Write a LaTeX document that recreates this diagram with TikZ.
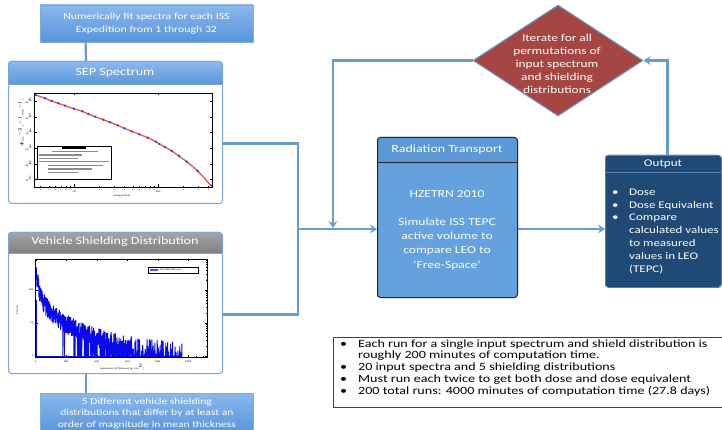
\documentclass[tikz,border=0pt]{standalone}
\usepackage{fontspec}
\setmainfont{Carlito}[FakeStretch=1.27]
\usetikzlibrary{shapes.geometric,arrows.meta}
\definecolor{connc}{RGB}{104,155,208}
\definecolor{bt}{RGB}{138,184,236}
\definecolor{bb}{RGB}{88,148,220}
\definecolor{bbord}{RGB}{132,170,214}
\definecolor{sept}{RGB}{140,186,238}
\definecolor{sepb}{RGB}{80,142,216}
\definecolor{bodybord}{RGB}{125,166,212}
\definecolor{grt}{RGB}{165,165,165}
\definecolor{grb}{RGB}{118,118,118}
\definecolor{diared}{RGB}{166,70,66}
\definecolor{rthead}{RGB}{92,152,214}
\definecolor{rtbody}{RGB}{100,161,222}
\definecolor{rtbord}{RGB}{38,38,38}
\definecolor{outfill}{RGB}{31,74,117}
\definecolor{outbord}{RGB}{88,128,172}
\definecolor{plotblue}{RGB}{10,10,235}
\definecolor{fitred}{RGB}{240,80,80}
\begin{document}
\begin{tikzpicture}[x=1pt,y=-1pt,
  conn/.style={draw=connc, line width=2.2pt},
  arr/.style={-{Stealth[length=7pt,width=9pt,inset=2.5pt]}},
  bluebox/.style={top color=bt, bottom color=bb, draw=bbord, line width=0.8pt, text=white, align=center, inner sep=0pt},
  headtxt/.style={text=white, inner sep=0pt, font=\fontsize{11.1}{13}\selectfont},
  tinytxt/.style={font=\fontsize{2.4}{3}\selectfont, inner sep=0pt},
  axisline/.style={line width=0.5pt},
  tickline/.style={line width=0.3pt},
  legline/.style={line width=1.1pt, draw=black!45},
]
\useasboundingbox (0,0) rectangle (722,430);
\fill[white] (0,0) rectangle (722,430);

% ---------- top-left box ----------
\node[bluebox, minimum width=213pt, minimum height=37pt, font=\fontsize{9.3}{12.7}\selectfont] (fitbox) at (146.5,23.5)
  {Numerically fit spectra for each ISS\\Expedition from 1 through 32};

% ---------- SEP Spectrum panel ----------
\shade[top color=sept, bottom color=sepb, rounded corners=3pt] (8,61) rectangle (222,90);
\fill[white] (8,84) rectangle (222,203);
\draw[bodybord, line width=0.6pt] (8,84) -- (222,84);
\node[draw=bodybord, line width=1pt, rounded corners=3pt, minimum width=214pt, minimum height=142pt, anchor=north west, inner sep=0pt] (sep) at (8,61) {};
\node[headtxt] (septitle) at (115,72.5) {SEP Spectrum};

% SEP plot
\draw[axisline] (34,93) rectangle (212,187);
\foreach \v in {4,5,6,7,8,9,20,30,40,50,60,70,80,90,200,300,400} {
  \pgfmathsetmacro\xx{74+84*log10(\v/10)}
  \draw[tickline] (\xx,187) -- (\xx,185.6) (\xx,93) -- (\xx,94.4);
}
\foreach \v in {10,100} {
  \pgfmathsetmacro\xx{74+84*log10(\v/10)}
  \draw[tickline] (\xx,187) -- (\xx,184.5) (\xx,93) -- (\xx,95.5);
}
\foreach \v/\lab in {4/4,5/5,6/6,7/7,8/8,9/9,20/2,30/3,40/4,50/5,60/6,70/7,80/8,90/9,200/2,300/3,400/4} {
  \pgfmathsetmacro\xx{74+84*log10(\v/10)}
  \node[tinytxt, text=black!70] at (\xx,190) {\lab};
}
\node[tinytxt] at (74,191.5) {10};
\node[tinytxt] at (158,191.5) {100};
\node[tinytxt] at (122,195.5) {Energy [MeV]};
\foreach \yy/\e in {101/6,117/5,132/4,148/3,164/2,179/1} {
  \draw[tickline] (34,\yy) -- (36.5,\yy) (212,\yy) -- (209.5,\yy);
  \node[tinytxt, anchor=east] at (32.5,\yy) {10$^{\e}$};
}
\node[tinytxt, rotate=90] at (21,123) {$\Phi$ [cm$^{-2}$ s$^{-1}$ MeV$^{-1}$]};
\draw[fitred, line width=1.3pt] plot[smooth] coordinates {(35.7,95) (45,98.3) (51.7,101) (58.3,103.3) (65,105.7) (73.7,108.7) (82.3,111.3) (88.3,114) (95,116.7) (103.3,119.7) (110,122.3) (117.7,125.3) (124.3,128.3) (131.7,131.3) (139.3,134.3) (147.7,137.7) (156,141.7) (159.3,144) (165,147) (171.7,151) (179,156) (186.7,161.7) (197.7,171) (211,185.7)};
\foreach \p in {(35.7,95),(45,98.3),(51.7,101),(58.3,103.3),(65,105.7),(73.7,108.7),(82.3,111.3),(88.3,114),(95,116.7),(103.3,119.7),(110,122.3),(117.7,125.3),(124.3,128.3),(131.7,131.3),(139.3,134.3),(147.7,137.7),(156,141.7),(159.3,144),(165,147),(171.7,151),(179,156),(186.7,161.7),(197.7,171),(211,185.7)} {
  \fill[plotblue!80] \p circle (1.3pt);
}
% legend of fit
\draw[fill=white, line width=0.8pt] (37,146) rectangle (111,179);
\fill[black] (62,146.5) rectangle (86,149.5);
\draw[legline] (52,151.3) -- (98,151.3);
\draw[legline] (39,155) -- (82,155);
\draw[legline] (39,158.3) -- (78,158.3);
\draw[legline] (39,161.7) -- (109,161.7);
\draw[legline] (48,165.5) -- (103,165.5);
\draw[legline] (48,169) -- (92,169);
\draw[legline] (48,172.3) -- (78,172.3);

% ---------- Vehicle Shielding panel ----------
\shade[top color=grt, bottom color=grb, rounded corners=3pt] (8,232) rectangle (222,258);
\fill[white] (8,253) rectangle (222,373);
\draw[bodybord, line width=0.6pt] (8,253) -- (222,253);
\node[draw=bodybord, line width=1pt, rounded corners=3pt, minimum width=214pt, minimum height=141pt, anchor=north west, inner sep=0pt] (veh) at (8,232) {};
\node[headtxt] (vehtitle) at (115,242) {Vehicle Shielding Distribution};

% histogram plot
\pgfmathsetseed{5}
\draw[plotblue, line width=0.9pt, line join=bevel] plot[domain=1:960, samples=900, variable=\t]
  ({35.7+0.1526*\t},{356-33*((rnd>max(0.0,(\t-170)/860))*max(0,0.9*exp(-\t/25)+1.7*exp(-\t/330)+0.05+0.6*(rnd-0.5)))});
\draw[plotblue, line width=0.8pt] (36,356) -- (36,300);
\draw[plotblue, line width=0.8pt] (35.7,356) -- (182,356);
\draw[axisline] (35,259) rectangle (207,357);
\foreach \v in {0,50,...,1100} {
  \pgfmathsetmacro\xx{35.7+0.1526*\v}
  \draw[tickline] (\xx,357) -- (\xx,355.8) (\xx,259) -- (\xx,260.2);
}
\foreach \v in {0,200,400,600,800,1000} {
  \pgfmathsetmacro\xx{35.7+0.1526*\v}
  \draw[tickline] (\xx,357) -- (\xx,354.8) (\xx,259) -- (\xx,261.2);
  \node[tinytxt] at (\xx,361.5) {\v};
}
\node[tinytxt] at (122,367.5) {Equivalent Al Thickness [g / cm$^{2}$]};
\foreach \v in {2,3,4,5,6,7,8,9,20,30,40,50,60,70,80,90,200,300,400,500,600,700,800} {
  \pgfmathsetmacro\yy{356-33*log10(\v)}
  \draw[tickline] (35,\yy) -- (36.3,\yy) (207,\yy) -- (205.7,\yy);
}
\foreach \v in {1,10,100} {
  \pgfmathsetmacro\yy{356-33*log10(\v)}
  \draw[tickline] (35,\yy) -- (37.5,\yy) (207,\yy) -- (204.5,\yy);
  \node[tinytxt, anchor=east] at (33.5,\yy) {\v};
}
\node[tinytxt, rotate=90] at (17,310) {Counts};
\draw[fill=white, line width=0.4pt] (148,267) rectangle (198,273);
\draw[plotblue!70, line width=1.5pt] (150,270) -- (158,270);
\node[tinytxt, anchor=west] at (160,270) {US LAB (10k rays)};

% ---------- bottom-left box ----------
\node[bluebox, minimum width=213pt, minimum height=40pt, anchor=north west, font=\fontsize{9.1}{11.3}\selectfont] (fivebox) at (40,393)
  {5 Different vehicle shielding\\distributions that differ by at least an\\order of magnitude in mean thickness};

% ---------- diamond ----------
\node[diamond, fill=diared, draw=connc, line width=1pt, minimum width=170pt, minimum height=111pt, inner sep=0pt] (dia) at (558,60.5) {};
\node[text=white, align=center, inner sep=0pt, font=\fontsize{10.5}{13}\selectfont] (diatext) at (557,64)
  {Iterate for all\\permutations of\\input spectrum\\and shielding\\distributions};

% ---------- Radiation Transport ----------
\fill[rthead, rounded corners=3pt] (377,137) rectangle (517,168);
\fill[rtbody] (377,162) rectangle (517,297);
\draw[rtbord, line width=0.8pt] (377,162) -- (517,162);
\node[draw=rtbord, line width=1pt, rounded corners=3pt, minimum width=140pt, minimum height=160pt, anchor=north west, inner sep=0pt] (rt) at (377,137) {};
\node[text=white, inner sep=0pt, font=\fontsize{11}{12}\selectfont] (rttitle) at (447,150) {Radiation Transport};
\node[text=white, align=center, inner sep=0pt, font=\fontsize{10.7}{14.2}\selectfont] (rttext) at (447,230)
  {HZETRN 2010\\[14.2pt]Simulate ISS TEPC\\active volume to\\compare LEO to\\‘Free-Space’};

% ---------- Output ----------
\fill[outfill, rounded corners=3pt] (605,155) rectangle (721,287);
\draw[outbord, line width=0.6pt] (605,172) -- (721,172);
\node[draw=outbord, line width=0.9pt, rounded corners=3pt, minimum width=116pt, minimum height=132pt, anchor=north west, inner sep=0pt] (out) at (605,155) {};
\node[text=white, inner sep=0pt, font=\fontsize{10.3}{12}\selectfont] (outtitle) at (663,163.5) {Output};
\node[text=white, align=left, inner sep=0pt, anchor=north west, font=\fontsize{10.2}{12.8}\selectfont] (outtext) at (612,188.5)
  {\makebox[17pt][l]{•}Dose\\
   \makebox[17pt][l]{•}Dose Equivalent\\
   \makebox[17pt][l]{•}Compare\\
   \hspace*{17pt}calculated values\\
   \hspace*{17pt}to measured\\
   \hspace*{17pt}values in LEO\\
   \hspace*{17pt}(TEPC)};

% ---------- note box ----------
\node[draw=black!75, line width=0.8pt, minimum width=392pt, minimum height=70pt, anchor=north west, inner sep=0pt] (note) at (333,337) {};
\node[align=left, inner sep=0pt, anchor=north west, font=\fontsize{11.1}{10.6}\selectfont] (notetext) at (340,339.5)
  {\makebox[18pt][l]{•}Each run for a single input spectrum and shield distribution is\\
   \hspace*{18pt}roughly 200 minutes of computation time.\\[1.6pt]
   \makebox[18pt][l]{•}20 input spectra and 5 shielding distributions\\[1.6pt]
   \makebox[18pt][l]{•}Must run each twice to get both dose and dose equivalent\\[1.6pt]
   \makebox[18pt][l]{•}200 total runs: 4000 minutes of computation time (27.8 days)};

% ---------- connectors ----------
\coordinate (jx) at (298,229);
\coordinate (jy) at (333,228);
\draw[conn] ([xshift=46pt]fitbox.south west) -- ([xshift=78pt]sep.north west);
\draw[conn] ([xshift=78pt]veh.south west) -- ([xshift=46pt]fivebox.north west);
\draw[conn] ([yshift=-11pt]sep.east) -| (jx) |- ([yshift=-11.5pt]veh.east);
\draw[conn, arr] (jx) -- (rt.west |- jx);
\draw[conn, arr] (dia.west) -| (jy);
\draw[conn, arr] (rt.east |- jx) -- (out.west |- jx);
\draw[conn, arr] ([xshift=4pt]out.north) |- (dia.east);
\end{tikzpicture}
\end{document}
